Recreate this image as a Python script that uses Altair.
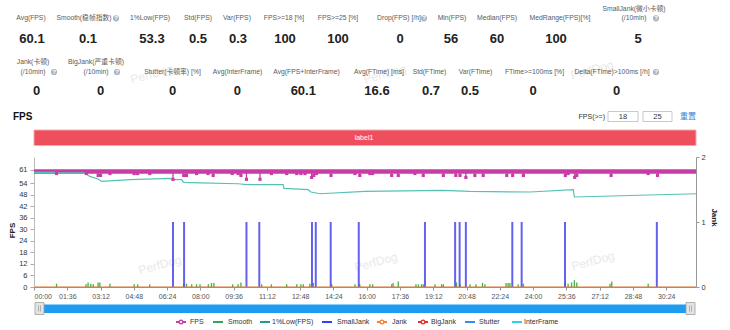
import altair as alt
import pandas as pd

FONT = "Liberation Sans, Noto Sans CJK SC, sans-serif"

# ---------------- summary statistics ----------------
row1_labels = ["Avg(FPS)", "Smooth(稳帧指数)", "1%Low(FPS)", "Std(FPS)", "Var(FPS)",
               "FPS>=18 [%]", "FPS>=25 [%]", "Drop(FPS) [/h]", "Min(FPS)", "Median(FPS)",
               "MedRange(FPS)[%]", "SmallJank(微小卡顿)\n(/10min)"]
row1_values = [60.1, 0.1, 53.3, 0.5, 0.3, 100, 100, 0, 56, 60, 100, 5]
row2_labels = ["Jank(卡顿)\n(/10min)", "BigJank(严重卡顿)\n(/10min)", "Stutter(卡顿率) [%]",
               "Avg(InterFrame)", "Avg(FPS+InterFrame)", "Avg(FTime) [ms]", "Std(FTime)",
               "Var(FTime)", "FTime>=100ms [%]", "Delta(FTime)>100ms [/h]"]
row2_values = [0, 0, 0, 0, 60.1, 16.6, 0.7, 0.5, 0, 0]

section_title = "FPS"
threshold_label = "FPS(>=)"
threshold_values = [18, 25]
reset_label = "重置"
band_label = "label1"
watermark = "PerfDog"

# ---------------- axes ----------------
time_ticks = [0, 96, 192, 288, 384, 480, 576, 672, 768, 864, 960, 1056, 1152, 1248,
              1344, 1440, 1536, 1632, 1728, 1824]
fps_ticks = [0, 6, 12, 18, 24, 30, 36, 42, 48, 54, 61]
jank_ticks = [0, 1, 2]
time_end = 1910
fps_axis_max = 67.6
jank_axis_max = 2

# ---------------- series (time in seconds) ----------------
fps_base_t = [0, 1910]
fps_base_v = [60, 60]
fps_dip_t = [65, 151, 185, 192, 219, 289, 299, 334, 401, 432, 440, 469, 502, 517, 572,
             589, 597, 613, 652, 685, 729, 758, 770, 782, 801, 807, 815, 857, 926, 940,
             969, 977, 1032, 1051, 1099, 1123, 1181, 1217, 1229, 1246, 1272, 1296, 1364,
             1381, 1412, 1533, 1541, 1560, 1566, 1665, 1772, 1799]
fps_dip_v = [59, 59, 58, 58, 59, 59, 59, 59, 56, 58, 58, 59, 59, 58, 59,
             59, 58, 56, 56, 59, 59, 59, 59, 59, 57, 58, 59, 58, 59, 58,
             59, 59, 58, 58, 59, 58, 58, 58, 58, 57, 58, 58, 58,
             58, 58, 58, 59, 57, 58, 58, 59, 58]

low1_t = [0, 65, 66, 147, 161, 185, 195, 277, 392, 401, 426, 432, 479, 589, 613, 719,
          721, 791, 799, 825, 955, 1180, 1258, 1431, 1556, 1559, 1910]
low1_v = [59.6, 59.6, 59.3, 59.3, 57.5, 56.2, 54.9, 55.8, 56.5, 55.8, 55.8, 54.4, 54.1,
          53.7, 53.2, 53.2, 51.3, 50.6, 49.4, 48.5, 49.7, 50.2, 49.7, 49.4, 50.6, 46.8, 48.5]

smooth_t = [65, 150, 156, 164, 171, 185, 190, 219, 289, 299, 334, 432, 440, 455, 469,
            479, 503, 512, 519, 573, 589, 597, 657, 685, 729, 758, 770, 777, 796, 806,
            859, 926, 940, 969, 977, 1032, 1036, 1051, 1102, 1109, 1118, 1123, 1157, 1176,
            1181, 1219, 1229, 1258, 1275, 1294, 1301, 1362, 1368, 1373, 1397, 1412, 1533,
            1541, 1551, 1559, 1566, 1662, 1667, 1772]
smooth_v = [1.7, 1.4, 2.4, 1.7, 1.4, 2.4, 2.4, 1.7, 1.4, 1.4, 1.4, 1.7, 1.7, 1.4, 1.4,
            1.4, 1.4, 2.1, 2.1, 1.4, 1.4, 2.4, 1.4, 1.4, 1.4, 1.4, 1.4, 1.4, 1.7, 2.1,
            1.4, 1.4, 1.4, 1.4, 1.4, 1.4, 2.1, 2.8, 1.4, 1.4, 1.4, 1.4, 1.4, 1.4,
            1.4, 2.4, 1.4, 1.4, 1.4, 2.1, 1.4, 2.1, 2.1, 2.1, 1.4, 1.7, 2.4,
            1.7, 2.4, 3.5, 2.4, 1.7, 2.8, 1.7]

smalljank_t = [401, 433, 613, 650, 802, 813, 856, 937, 1128, 1215, 1228, 1246, 1380,
               1407, 1532, 1797]
smalljank_v = [1, 1, 1, 1, 1, 1, 1, 1, 1, 1, 1, 1, 1, 1, 1, 1]

jank_t = [0, 1910]
jank_v = [0, 0]

legend_names = ["FPS", "Smooth", "1%Low(FPS)", "SmallJank", "Jank", "BigJank", "Stutter", "InterFrame"]
legend_colors = ["#c93ca6", "#2fa84f", "#1f9e8a", "#3b3bef", "#f5852c", "#e5322d", "#2f8cf0", "#2dd3e0"]
legend_has_marker = [True, False, False, False, True, True, False, False]

# ---------------- styles ----------------
C_FPS = "#c93ca6"
C_SMOOTH = "#3cb44b"
C_LOW = "#55c2b5"
C_SJ = "#4646ee"
C_JANK = "#d9772f"

# ---------------- layout (absolute pixel coordinates of the page) ----------------
X0, Y0 = 34, 157          # top-left of plot area
W, H = 662, 130           # plot area size

row1_label_x = [31, 84, 150, 198, 237, 284, 338, 399, 452, 497, 560, 634]
row1_label_y = 18.3
row1_value_x = [32, 88, 152, 198, 238, 285, 338, 400, 451, 497, 556, 638]
row1_value_y = 38.5
row2_label_x = [33, 96, 172.5, 237.5, 306.5, 379, 429.5, 475.5, 534.5, 612]
row2_label_y = 72
row2_value_x = [36.7, 100.7, 172.7, 237.3, 303.3, 377, 431, 470, 533, 616.7]
row2_value_y = 91
line_gap = 9.7
icon_x = [116, 424, 656, 54, 117, 656]
icon_y = [18.3, 18.3, 18.3, 72, 72, 72]
watermark_x = [152, 385, 592, 160, 376, 593]
watermark_y = [74, 74, 70, 265, 262, 261]
legend_icon_x = [181, 218, 265, 327, 382, 423, 470, 517]
legend_text_x = [190, 228, 272, 337, 392, 431, 479, 524]
legend_y = 322


def rx(v):
    return v - X0


def ry(v):
    return v - Y0


def text_layer(texts, xs, ys, **kw):
    df = pd.DataFrame({"text": texts, "px": [rx(x) for x in xs], "py": [ry(y) for y in ys]})
    style = dict(font=FONT, baseline="middle", align="center")
    style.update(kw)
    return alt.Chart(df).mark_text(**style).encode(
        x=alt.X("px:Q", scale=None),
        y=alt.Y("py:Q", scale=None),
        text=alt.Text("text:N"),
    )


def rect_layer(x0s, x1s, y0s, y1s, **kw):
    df = pd.DataFrame({
        "x0": [rx(v) for v in x0s], "x1": [rx(v) for v in x1s],
        "y0": [ry(v) for v in y0s], "y1": [ry(v) for v in y1s],
    })
    return alt.Chart(df).mark_rect(**kw).encode(
        x=alt.X("x0:Q", scale=None), x2="x1:Q",
        y=alt.Y("y0:Q", scale=None), y2="y1:Q",
    )


def fmt(v):
    return f"{v:g}"


def label_lines(labels, xs, base_y):
    texts, lx, ly = [], [], []
    for lab, x in zip(labels, xs):
        parts = lab.split("\n")
        n = len(parts)
        for i, p in enumerate(parts):
            texts.append(p)
            lx.append(x)
            ly.append(base_y - (n - 1 - i) * line_gap)
    return texts, lx, ly


layers = []

# watermarks
layers.append(text_layer([watermark] * len(watermark_x), watermark_x, watermark_y,
                         fontSize=12, color="#e9e9e9", angle=345))

# header statistics
t1, x1, y1 = label_lines(row1_labels, row1_label_x, row1_label_y)
t2, x2, y2 = label_lines(row2_labels, row2_label_x, row2_label_y)
layers.append(text_layer(t1 + t2, x1 + x2, y1 + y2, fontSize=6.8, color="#5a5a5a"))
layers.append(text_layer([fmt(v) for v in row1_values] + [fmt(v) for v in row2_values],
                         row1_value_x + row2_value_x,
                         [row1_value_y] * len(row1_values) + [row2_value_y] * len(row2_values),
                         fontSize=13, fontWeight="bold", color="#222222"))
# help icons
icon_df = pd.DataFrame({"px": [rx(v) for v in icon_x], "py": [ry(v) for v in icon_y]})
layers.append(alt.Chart(icon_df).mark_circle(size=38, color="#a8b3c4", opacity=1).encode(
    x=alt.X("px:Q", scale=None), y=alt.Y("py:Q", scale=None)))
layers.append(text_layer(["?"] * len(icon_x), icon_x, icon_y, fontSize=6, fontWeight="bold", color="white"))

# section header
layers.append(text_layer([section_title], [13], [117], align="left", fontSize=10, fontWeight="bold", color="#111111"))
layers.append(text_layer([threshold_label], [605], [116.5], align="right", fontSize=7, color="#333333"))
layers.append(rect_layer([608, 643], [638, 672], [111.5, 111.5], [121.5, 121.5],
                         fill="white", stroke="#bbbbbb", strokeWidth=0.8))
layers.append(text_layer([str(v) for v in threshold_values], [623, 657.5], [116.5, 116.5],
                         fontSize=7.5, color="#333333"))
layers.append(text_layer([reset_label], [688], [116.5], fontSize=8, color="#3d7fd6"))

# red label band
layers.append(rect_layer([34], [696], [130], [145.5], fill="#ef4f5d", stroke="#f6a9b0", strokeWidth=1))
layers.append(text_layer([band_label], [364], [138], fontSize=7, color="white"))

# ---------------- plot layers ----------------
xs = alt.Scale(domain=[0, time_end], nice=False, zero=False)
ysl = alt.Scale(domain=[0, fps_axis_max], nice=False, zero=True)
ysr = alt.Scale(domain=[0, jank_axis_max], nice=False, zero=True)

x_axis = alt.Axis(values=time_ticks, labelExpr="utcFormat(datum.value * 1000, '%M:%S')",
                  labelFlush=True, labelOverlap=False, labelFont=FONT, labelFontSize=7,
                  labelColor="#555555", tickColor="#999999", domainColor="#999999",
                  tickSize=3, labelPadding=2, grid=False, title=None)
yl_axis = alt.Axis(values=fps_ticks, format="d", labelOverlap=False, labelFont=FONT,
                   labelFontSize=7.5, labelColor="#333333", tickSize=4, labelPadding=3,
                   tickColor="#aaaaaa", domainColor="#bbbbbb", grid=False, title="FPS",
                   titleFont=FONT, titleFontSize=8, titleFontWeight="bold",
                   titleColor="#222222", titleAngle=270, titleX=12 - X0, titleY=230 - Y0,
                   titleAlign="center", titleBaseline="middle")
yr_axis = alt.Axis(orient="right", values=jank_ticks, labelExpr="format(datum.value, 'd')",
                   labelOverlap=False, labelFont=FONT, labelFontSize=7.5,
                   labelColor="#333333", tickSize=3, labelPadding=2, tickColor="#999999",
                   domainColor="#999999", grid=False, title="Jank", titleFont=FONT,
                   titleFontSize=8, titleFontWeight="bold", titleColor="#222222",
                   titleAngle=90, titleX=713 - (X0 + W), titleY=217 - Y0,
                   titleAlign="center", titleBaseline="middle")

fps_df = pd.DataFrame({"t": fps_base_t, "v": fps_base_v})
dip_df = pd.DataFrame({"t": fps_dip_t, "v": fps_dip_v})
low_df = pd.DataFrame({"t": low1_t, "v": low1_v})
smooth_df = pd.DataFrame({"t": smooth_t, "v": smooth_v})
sj_df = pd.DataFrame({"t": smalljank_t, "v": smalljank_v})
jank_df = pd.DataFrame({"t": jank_t, "v": jank_v})

X = alt.X("t:Q", scale=xs, axis=x_axis)
YL = alt.Y("v:Q", scale=ysl, axis=yl_axis)
YR = alt.Y("v:Q", scale=ysr, axis=yr_axis)

smooth_layer = alt.Chart(smooth_df).mark_rule(color=C_SMOOTH, strokeWidth=1.3).encode(
    x=X, y=YL, y2=alt.datum(0))
low_layer = alt.Chart(low_df).mark_line(color=C_LOW, strokeWidth=1.2).encode(x=X, y=YL)
fps_layer = alt.Chart(fps_df).mark_line(color=C_FPS, strokeWidth=4.5).encode(x=X, y=YL)
dip_rule = alt.Chart(dip_df).mark_rule(color=C_FPS, strokeWidth=1.3).encode(
    x=X, y=YL, y2=alt.datum(60))
dip_pts = alt.Chart(dip_df).mark_square(size=10, color=C_FPS, opacity=1).encode(x=X, y=YL)

left_group = alt.layer(fps_layer, low_layer, smooth_layer, dip_rule, dip_pts)

sj_layer = alt.Chart(sj_df).mark_rule(color=C_SJ, strokeWidth=2, opacity=0.85).encode(
    x=X, y=YR, y2=alt.datum(0))
jank_layer = alt.Chart(jank_df).mark_line(color=C_JANK, strokeWidth=1.2).encode(x=X, y=YR)
right_group = alt.layer(sj_layer, jank_layer)

# ---------------- data-zoom slider ----------------
layers_bottom = []
layers_bottom.append(rect_layer([44], [686], [304.5], [313], fill="#1e9cf0"))
layers_bottom.append(rect_layer([35, 686], [44, 695], [302.5, 302.5], [314.5, 314.5],
                                fill="#e4e4e4", stroke="#a0a0a0", strokeWidth=0.8))
grip_df = pd.DataFrame({"x0": [rx(v) for v in [38.5, 40.5, 689.5, 691.5]],
                        "y0": [ry(305.5)] * 4, "y1": [ry(311.5)] * 4})
layers_bottom.append(alt.Chart(grip_df).mark_rule(color="#999999", strokeWidth=0.7).encode(
    x=alt.X("x0:Q", scale=None), y=alt.Y("y0:Q", scale=None), y2="y1:Q"))

# ---------------- legend ----------------
leg_df = pd.DataFrame({
    "x0": [rx(v - 5) for v in legend_icon_x], "x1": [rx(v + 5) for v in legend_icon_x],
    "py": [ry(legend_y)] * len(legend_icon_x), "c": legend_colors,
})
layers_bottom.append(alt.Chart(leg_df).mark_rule(strokeWidth=2).encode(
    x=alt.X("x0:Q", scale=None), x2="x1:Q",
    y=alt.Y("py:Q", scale=None), color=alt.Color("c:N", scale=None)))
mk = [i for i, m in enumerate(legend_has_marker) if m]
mk_df = pd.DataFrame({"px": [rx(legend_icon_x[i]) for i in mk], "py": [ry(legend_y)] * len(mk),
                      "c": [legend_colors[i] for i in mk]})
layers_bottom.append(alt.Chart(mk_df).mark_point(shape="circle", size=14, filled=True,
                                                   fill="white", strokeWidth=1.3, opacity=1).encode(
    x=alt.X("px:Q", scale=None), y=alt.Y("py:Q", scale=None),
    stroke=alt.Stroke("c:N", scale=None)))
layers_bottom.append(text_layer(legend_names, legend_text_x, [legend_y] * len(legend_names),
                                align="left", fontSize=7, color="#333333"))

chart = alt.layer(*layers, left_group, right_group, *layers_bottom).resolve_scale(
    y="independent"
).properties(
    width=W, height=H,
    padding={"left": X0, "top": Y0, "right": 730 - X0 - W, "bottom": 330 - Y0 - H},
    autosize=alt.AutoSizeParams(type="none"),
    background="white",
).configure_view(stroke=None)

chart.save("out.html", embed_options={"renderer": "svg", "actions": False})
